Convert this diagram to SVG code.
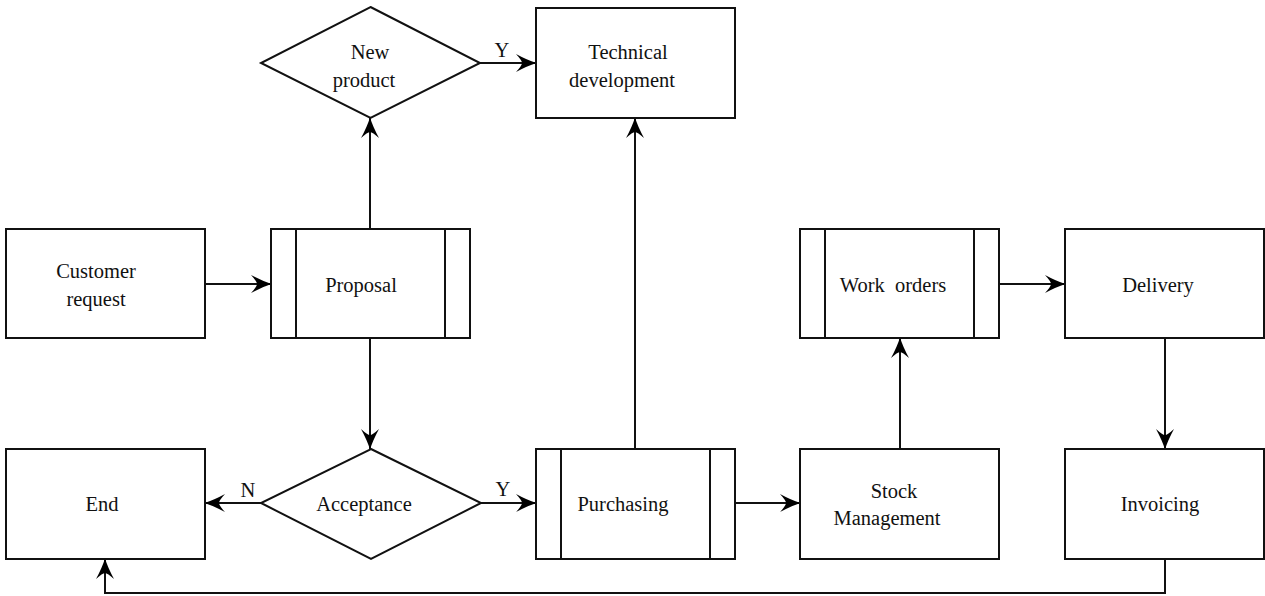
<svg xmlns="http://www.w3.org/2000/svg" width="1265" height="596" viewBox="0 0 1265 596">
<defs>
<marker id="arr" markerUnits="userSpaceOnUse" markerWidth="22" markerHeight="20" refX="20" refY="10" orient="auto" viewBox="0 0 22 20">
<path d="M0,1 Q11,7 20.5,10 Q11,13 0,19 Q6,12.5 6,10 Q6,7.5 0,1 Z" fill="#000"/>
</marker>
<style>
.box{fill:#fff;stroke:#111;stroke-width:2}
.in{fill:none;stroke:#111;stroke-width:2}
.t{font-family:"Liberation Serif","Times New Roman",serif;font-size:20.5px;fill:#111;text-anchor:middle}
.c{fill:none;stroke:#111;stroke-width:2}
</style>
</defs>
<rect width="1265" height="596" fill="#fff"/>
<g id="connectors">
<line class="c" x1="205" y1="284" x2="271" y2="284" marker-end="url(#arr)"/>
<line class="c" x1="370" y1="228" x2="370" y2="118" marker-end="url(#arr)"/>
<line class="c" x1="480" y1="63" x2="536" y2="63" marker-end="url(#arr)"/>
<line class="c" x1="370" y1="338" x2="370" y2="449" marker-end="url(#arr)"/>
<line class="c" x1="261" y1="503" x2="205" y2="503" marker-end="url(#arr)"/>
<line class="c" x1="481" y1="503" x2="536" y2="503" marker-end="url(#arr)"/>
<line class="c" x1="635" y1="449" x2="635" y2="118" marker-end="url(#arr)"/>
<line class="c" x1="735" y1="503" x2="800" y2="503" marker-end="url(#arr)"/>
<line class="c" x1="900" y1="449" x2="900" y2="338" marker-end="url(#arr)"/>
<line class="c" x1="999" y1="284" x2="1065" y2="284" marker-end="url(#arr)"/>
<line class="c" x1="1165" y1="338" x2="1165" y2="449" marker-end="url(#arr)"/>
<polyline class="c" points="1165,559 1165,593 105,593 105,559" marker-end="url(#arr)"/>
<text class="t" x="502" y="57">Y</text>
<text class="t" x="248" y="497">N</text>
<text class="t" x="503" y="496">Y</text>
</g>
<g id="customer-request">
<rect class="box" x="6" y="229" width="199" height="109"/>
<text class="t" x="96" y="278">Customer</text>
<text class="t" x="96" y="306">request</text>
</g>
<g id="proposal">
<rect class="box" x="271" y="229" width="199" height="109"/>
<line class="in" x1="296" y1="229" x2="296" y2="338"/>
<line class="in" x1="445" y1="229" x2="445" y2="338"/>
<text class="t" x="361" y="292">Proposal</text>
</g>
<g id="new-product">
<polygon class="box" points="370.5,7 480,63 370.5,118 261,63"/>
<text class="t" x="370" y="59">New</text>
<text class="t" x="364" y="87">product</text>
</g>
<g id="technical-development">
<rect class="box" x="536" y="8" width="199" height="110"/>
<text class="t" x="628" y="59">Technical</text>
<text class="t" x="622" y="87">development</text>
</g>
<g id="end">
<rect class="box" x="6" y="449" width="199" height="110"/>
<text class="t" x="102" y="511">End</text>
</g>
<g id="acceptance">
<polygon class="box" points="371,449 481,503 371,559 261,503"/>
<text class="t" x="364" y="511">Acceptance</text>
</g>
<g id="purchasing">
<rect class="box" x="536" y="449" width="199" height="110"/>
<line class="in" x1="561" y1="449" x2="561" y2="559"/>
<line class="in" x1="710" y1="449" x2="710" y2="559"/>
<text class="t" x="623" y="511">Purchasing</text>
</g>
<g id="stock-management">
<rect class="box" x="800" y="449" width="199" height="110"/>
<text class="t" x="894" y="498">Stock</text>
<text class="t" x="887" y="525">Management</text>
</g>
<g id="work-orders">
<rect class="box" x="800" y="229" width="199" height="109"/>
<line class="in" x1="825" y1="229" x2="825" y2="338"/>
<line class="in" x1="974" y1="229" x2="974" y2="338"/>
<text class="t" x="893" y="292" xml:space="preserve">Work  orders</text>
</g>
<g id="delivery">
<rect class="box" x="1065" y="229" width="199" height="109"/>
<text class="t" x="1158" y="292">Delivery</text>
</g>
<g id="invoicing">
<rect class="box" x="1065" y="449" width="199" height="110"/>
<text class="t" x="1160" y="511">Invoicing</text>
</g>
</svg>
